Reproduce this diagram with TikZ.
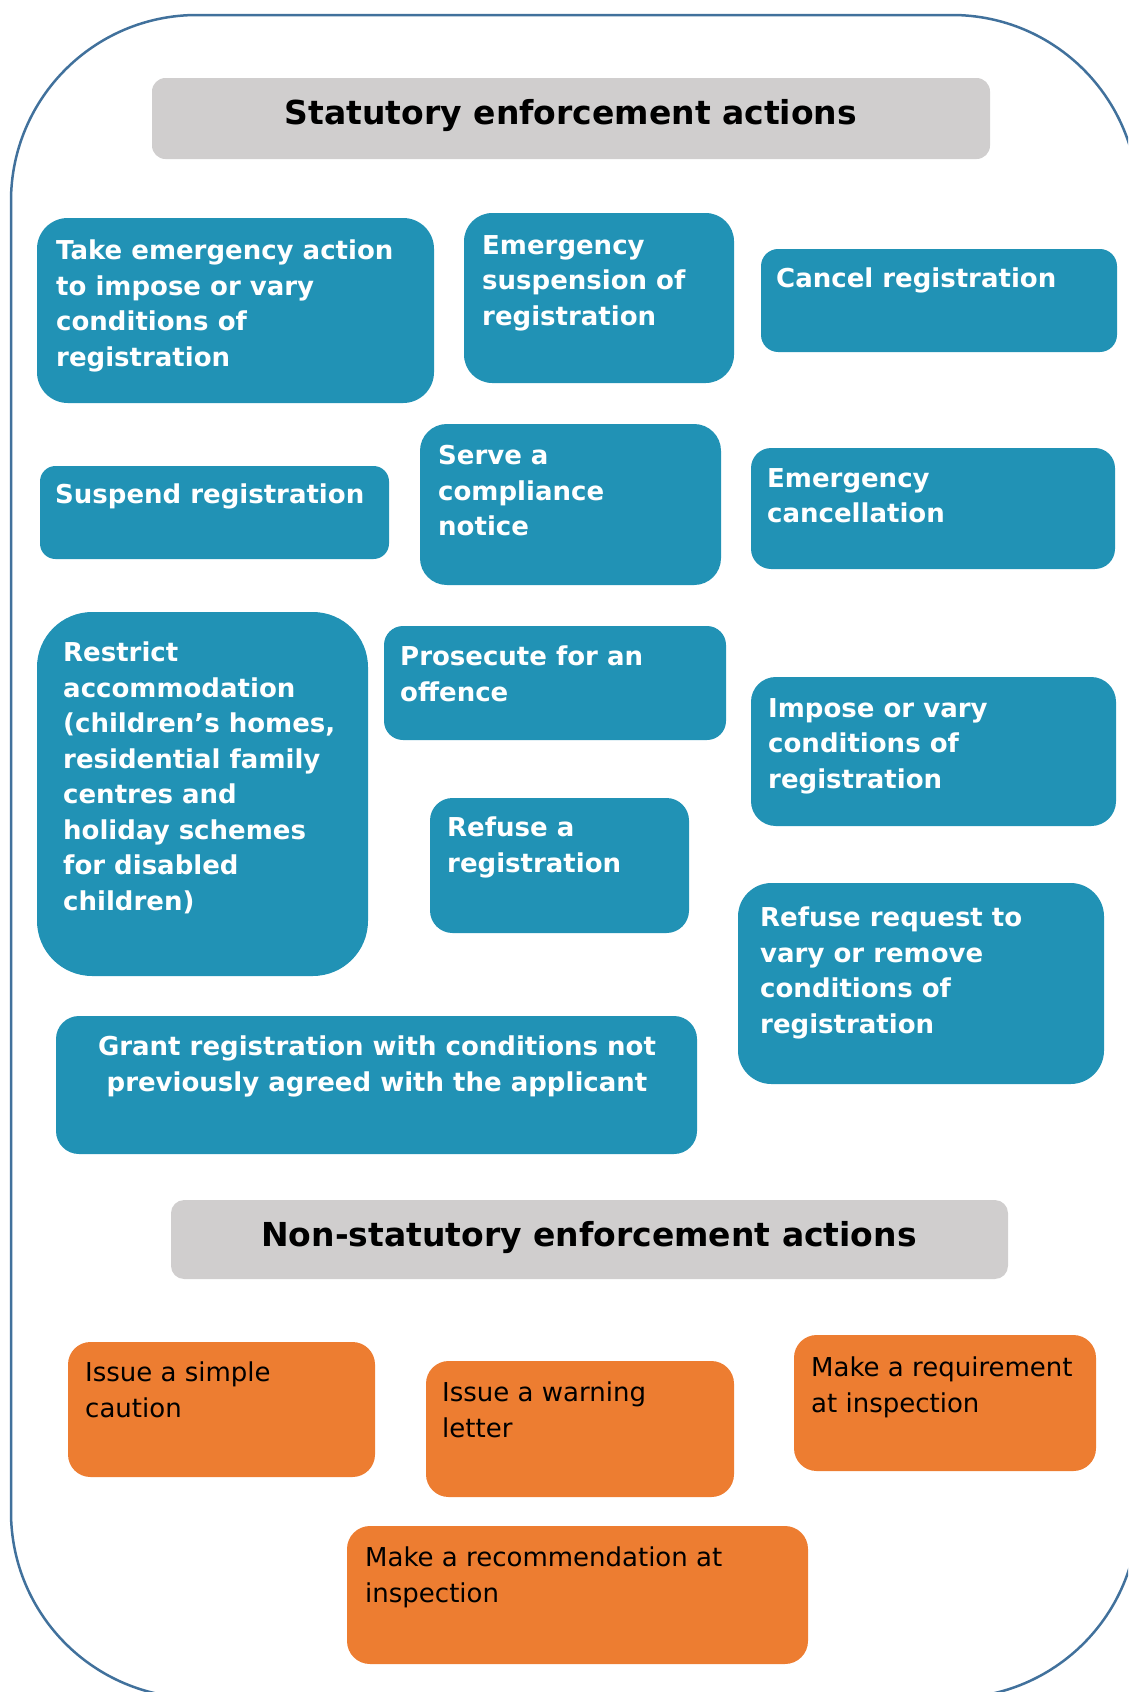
\documentclass[tikz,border=0pt]{standalone}
\usepackage{fontspec}
\setmainfont{DejaVu Sans}
\definecolor{ofblue}{HTML}{2192B5}
\definecolor{oforange}{HTML}{ED7D31}
\definecolor{ofgrey}{HTML}{D0CECE}
\definecolor{offrame}{HTML}{41719C}
\tikzset{
  actbox/.style={anchor=north west, inner sep=0pt, outer sep=0pt},
  bluebox/.style={actbox, fill=ofblue},
  orangebox/.style={actbox, fill=oforange},
  headbox/.style={actbox, fill=ofgrey},
  bluetxt/.style={anchor=north west, inner sep=0pt, align=left, text=white,
    font=\fontsize{26}{35.5}\selectfont\bfseries},
  orangetxt/.style={anchor=north west, inner sep=0pt, align=left, text=black,
    font=\fontsize{26}{35.5}\selectfont},
  headtxt/.style={anchor=base, inner sep=0pt, text=black,
    font=\fontsize{33}{40}\selectfont\bfseries}
}
\begin{document}
\begin{tikzpicture}[x=1pt,y=-1pt]
    \useasboundingbox (0,0) rectangle (1128,1692);
    \clip (0,0) rectangle (1128,1692);
    \draw[offrame, line width=2.5pt, rounded corners=186pt] (11,15) rectangle (1138,1698);
    %%% headings
    \foreach \nm/\xa/\ya/\w/\h [evaluate=\w as \rr using {min(\w,\h)/6}] in
      {stathead/152/78/838/81, nonstathead/171/1200/837/79}
    \node[headbox, minimum width=\w pt, minimum height=\h pt, rounded corners=\rr pt] (\nm) at (\xa,\ya) {};
    \node[headtxt] (stattitle) at (571,124) {Statutory enforcement actions};
    \node[headtxt] (nonstattitle) at (589,1246) {Non-statutory enforcement actions};
    %%% statutory boxes
    \foreach \nm/\xa/\ya/\w/\h [evaluate=\w as \rr using {min(\w,\h)/6}] in
      {emergaction/37/218/397/185, emergsusp/464/213/270/170, cancelreg/761/249/356/103,
       suspendreg/40/466/349/93, compliance/420/424/301/161, emergcancel/751/448/364/121,
       restrict/37/612/331/364, prosecute/384/626/342/114, imposevary/751/677/365/149,
       refusereg/430/798/259/135, refusevary/738/883/366/201, grantreg/56/1016/641/138}
    \node[bluebox, minimum width=\w pt, minimum height=\h pt, rounded corners=\rr pt] (\nm) at (\xa,\ya) {};
    \node[bluetxt] (emergactiontxt) at (56,240) {Take emergency action\\to impose or vary\\conditions of\\registration};
    \node[bluetxt] (emergsusptxt) at (482,235) {Emergency\\suspension of\\registration};
    \node[bluetxt] (cancelregtxt) at (776,268) {Cancel registration};
    \node[bluetxt] (suspendregtxt) at (55,484) {Suspend registration};
    \node[bluetxt] (compliancetxt) at (438,445) {Serve a\\compliance\\notice};
    \node[bluetxt] (emergcanceltxt) at (767,468) {Emergency\\cancellation};
    \node[bluetxt] (restricttxt) at (63,642) {Restrict\\accommodation\\(children’s homes,\\residential family\\centres and\\holiday schemes\\for disabled\\children)};
    \node[bluetxt] (prosecutetxt) at (400,646) {Prosecute for an\\offence};
    \node[bluetxt] (imposevarytxt) at (768,698) {Impose or vary\\conditions of\\registration};
    \node[bluetxt] (refuseregtxt) at (447,817) {Refuse a\\registration};
    \node[bluetxt] (refusevarytxt) at (760,907) {Refuse request to\\vary or remove\\conditions of\\registration};
    \node[bluetxt, anchor=north, align=center] (grantregtxt) at (377,1036) {Grant registration with conditions not\\previously agreed with the applicant};
    %%% non-statutory boxes
    \foreach \nm/\xa/\ya/\w/\h [evaluate=\w as \rr using {min(\w,\h)/6}] in
      {caution/68/1342/307/135, warning/426/1361/308/136,
       requirement/794/1335/302/136, recommend/347/1526/461/138}
    \node[orangebox, minimum width=\w pt, minimum height=\h pt, rounded corners=\rr pt] (\nm) at (\xa,\ya) {};
    \node[orangetxt] (cautiontxt) at (85,1362) {Issue a simple\\caution};
    \node[orangetxt] (warningtxt) at (442,1382) {Issue a warning\\letter};
    \node[orangetxt] (requirementtxt) at (811,1357) {Make a requirement\\at inspection};
    \node[orangetxt] (recommendtxt) at (365,1547) {Make a recommendation at\\inspection};
\end{tikzpicture}
\end{document}
